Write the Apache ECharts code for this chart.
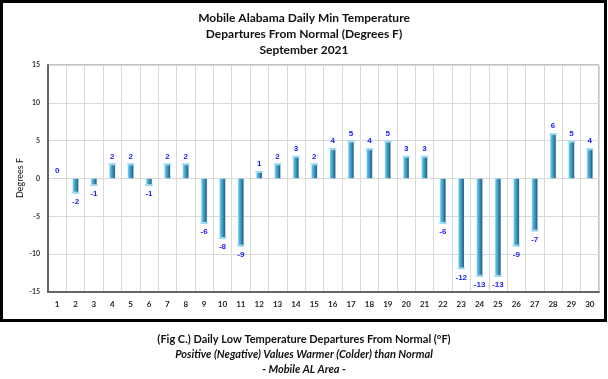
<!DOCTYPE html>
<html><head><meta charset="utf-8">
<script src="https://cdn.jsdelivr.net/npm/echarts@6/dist/echarts.min.js"></script>
<style>html,body{margin:0;padding:0;background:#fff;}#c{width:608px;height:379px;}</style>
</head><body><div id="c"></div>
<script>
const days = ['1','2','3','4','5','6','7','8','9','10','11','12','13','14','15','16','17','18','19','20','21','22','23','24','25','26','27','28','29','30'];
const departures = [0,-2,-1,2,2,-1,2,2,-6,-8,-9,1,2,3,2,4,5,4,5,3,3,-6,-12,-13,-13,-9,-7,6,5,4];
const titleLines = ['Mobile Alabama Daily Min Temperature','Departures From Normal (Degrees F)','September 2021'];
const captionLines = ['(Fig C.) Daily Low Temperature Departures From Normal (°F)','Positive (Negative) Values Warmer (Colder) than Normal','- Mobile AL Area -'];
const yAxisTitle = 'Degrees F';

const chart = echarts.init(document.getElementById('c'), null, {renderer:'canvas'});
const barGrad = new echarts.graphic.LinearGradient(0,0,1,0,[
  {offset:0,color:'#7fd0ef'},{offset:0.35,color:'#48aad6'},{offset:0.7,color:'#2f7fa6'},{offset:1,color:'#1d3f52'}]);
const barData = departures.map(v => ({
  value: v,
  label: {show:true, position: v < 0 ? 'bottom' : 'top', distance: v < 0 ? 4 : 3}
}));
const capData = departures.map(v => v === 0 ? '-' : v);
chart.setOption({
  animation:false,
  title:{
    text: titleLines.join('\n'), left:'center', top:5,
    textStyle:{fontFamily:'Lato', fontWeight:'bold', fontSize:12, lineHeight:16, color:'#111'}
  },
  graphic:[
    {type:'rect', shape:{x:1.5,y:1.5,width:604,height:319}, style:{fill:'none', stroke:'#000', lineWidth:3}, silent:true},
    {type:'text', x:20, y:178, rotation:Math.PI/2, style:{text:yAxisTitle, font:'9px Lato', fill:'#111', textAlign:'center', textVerticalAlign:'middle'}},
    {type:'text', left:'center', top:334, style:{text:captionLines[0], font:'bold 11px Lato', fill:'#111', textAlign:'center'}},
    {type:'text', left:'center', top:349, style:{text:captionLines[1], font:'italic bold 11px Lato', fill:'#111', textAlign:'center'}},
    {type:'text', left:'center', top:364, style:{text:captionLines[2], font:'italic bold 11px Lato', fill:'#111', textAlign:'center'}}
  ],
  grid:{left:48, right:9, top:65, bottom:87, show:true, borderColor:'#888', borderWidth:1},
  xAxis:{
    type:'category', data:days,
    axisLine:{show:true, onZero:false, lineStyle:{color:'#666', width:2}},
    axisTick:{show:false},
    splitLine:{show:true, lineStyle:{color:'#d9d9d9', width:1}},
    axisLabel:{fontFamily:'Lato', fontWeight:'bold', fontSize:8, color:'#222', margin:8}
  },
  yAxis:{
    type:'value', min:-15, max:15, interval:5,
    axisLine:{show:true, lineStyle:{color:'#666', width:2}},
    axisTick:{show:false},
    splitLine:{show:true, lineStyle:{color:'#d9d9d9', width:1}},
    axisLabel:{fontFamily:'Lato', fontWeight:'bold', fontSize:7, color:'#333', margin:8}
  },
  series:[{
    type:'bar', data:barData, barWidth:6,
    itemStyle:{color:barGrad, borderColor:'rgba(150,215,240,0.6)', borderWidth:0.5},
    label:{color:'#1a1aff', fontFamily:'Liberation Sans', fontWeight:'bold', fontSize:8},
    z:3
  },{
    type:'pictorialBar', data:capData, symbol:'rect', symbolSize:[8,2],
    symbolPosition:'end', symbolOffset:[0,0], itemStyle:{color:'rgba(170,225,245,0.85)'},
    barGap:'-100%', z:4, silent:true
  }]
});
</script></body></html>
